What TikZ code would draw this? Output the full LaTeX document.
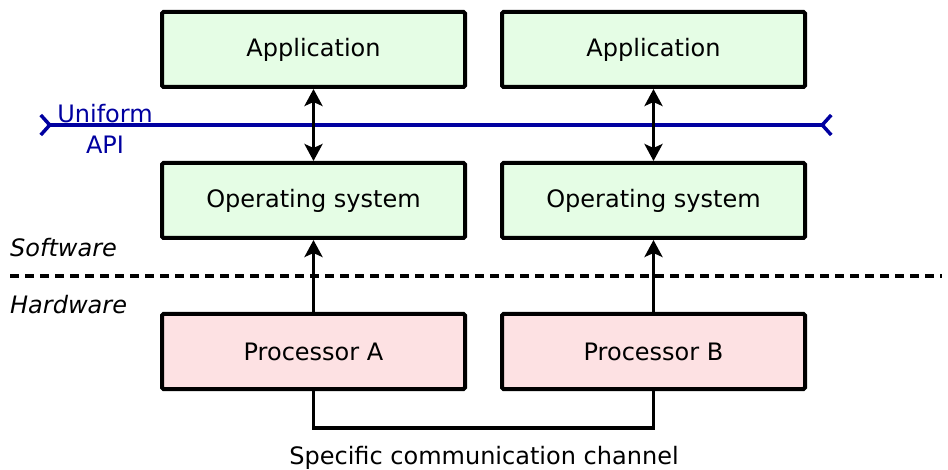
\documentclass[tikz,border=0pt]{standalone}
\usepackage{fontspec}
\setmainfont{DejaVu Sans}
\usetikzlibrary{arrows.meta}
\definecolor{boxgreen}{HTML}{E5FDE5}
\definecolor{boxpink}{HTML}{FDE1E3}
\definecolor{apiblue}{HTML}{0000A0}
\tikzset{
  box/.style={draw=black, line width=4pt, rounded corners=1.5pt, minimum width=303pt, minimum height=75pt, inner sep=0pt, font=\fontsize{24}{29}\selectfont},
  swbox/.style={box, fill=boxgreen},
  hwbox/.style={box, fill=boxpink},
  tip/.style={Stealth[length=17pt,width=18pt,inset=4pt]},
  arr/.style={line width=3.5pt, -{Stealth[length=17pt,width=18pt,inset=4pt]}},
  darr/.style={line width=3.5pt, {Stealth[length=17pt,width=18pt,inset=4pt]}-{Stealth[length=17pt,width=18pt,inset=4pt]}},
  lbl/.style={font=\fontsize{24}{29}\selectfont, inner sep=0pt},
  ilbl/.style={font=\fontsize{24}{29}\selectfont\itshape, inner sep=0pt, anchor=west},
}
\begin{document}
\begin{tikzpicture}[x=1pt,y=-1pt]
\useasboundingbox (0,0) rectangle (948,470);
\node[swbox] (appA) at (313.5,49.5) {Application};
\node[swbox] (appB) at (653.5,49.5) {Application};
\node[swbox] (osA) at (313.5,200.5) {Operating system};
\node[swbox] (osB) at (653.5,200.5) {Operating system};
\node[hwbox] (pA) at (313.5,351.5) {Processor A};
\node[hwbox] (pB) at (653.5,351.5) {Processor B};
% uniform API line
\coordinate (apiL) at (39,125);
\coordinate (apiR) at (833,125);
\draw[apiblue, line width=3.5pt, {Straight Barb[reversed,length=9pt,width=20pt]}-{Straight Barb[reversed,length=9pt,width=20pt]}] (apiL) -- (apiR);
\node[lbl, text=apiblue, align=center] (api) at (105,129) {Uniform\\[2pt]API};
% arrows
\draw[darr] (appA.south) -- (osA.north);
\draw[darr] (appB.south) -- (osB.north);
\draw[arr] (pA.north) -- (osA.south);
\draw[arr] (pB.north) -- (osB.south);
% dashed separator
\coordinate (sepL) at (10,276);
\coordinate (sepR) at (942,276);
\draw[line width=3.5pt, dash pattern=on 8.5pt off 6.5pt] (sepL) -- (sepR);
\node[ilbl] (sw) at (10,248) {Software};
\node[ilbl] (hw) at (10,305) {Hardware};
% channel
\draw[line width=3.5pt] (pA.south) -- ++(0,37) -| (pB.south);
\node[lbl] (chan) at (484,458) {Specific communication channel};
\end{tikzpicture}
\end{document}
